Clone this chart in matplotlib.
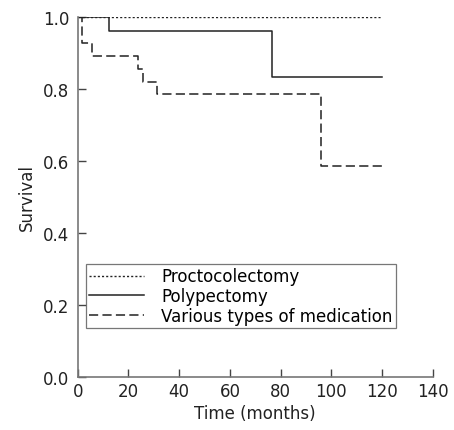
import matplotlib
matplotlib.use("Agg")
import matplotlib.pyplot as plt

# Data (Kaplan-Meier step curves)
procto_t = [0, 120]
procto_s = [1.0, 1.0]

poly_t = [0, 12.5, 76.5, 120]
poly_s = [1.0, 0.963, 0.835, 0.835]

med_t = [0, 1.8, 5.6, 23.6, 25.6, 31.4, 96.0, 120]
med_s = [1.0, 0.929, 0.893, 0.857, 0.821, 0.786, 0.587, 0.587]

xticks = [0, 20, 40, 60, 80, 100, 120, 140]
yticks = [0.0, 0.2, 0.4, 0.6, 0.8, 1.0]

plt.rcParams['font.family'] = ['DejaVu Sans']
fig = plt.figure(figsize=(4.54, 4.31), dpi=100)
ax = fig.add_axes([0.171, 0.1237, 0.7826, 0.834])

lc = '#222222'
ax.step(procto_t, procto_s, where='post', color=lc, lw=1.0, linestyle=(0, (1.5, 1.5)),
        label='Proctocolectomy')
ax.step(poly_t, poly_s, where='post', color=lc, lw=1.1, linestyle='-',
        label='Polypectomy')
ax.step(med_t, med_s, where='post', color=lc, lw=1.1, linestyle=(0, (6, 2.8)),
        label='Various types of medication')

ax.set_xlim(0, 140)
ax.set_ylim(0, 1.0)
ax.set_xticks(xticks)
ax.set_yticks(yticks)
ax.set_xticklabels([str(v) for v in xticks])
ax.set_yticklabels([f"{v:.1f}" for v in yticks])

for s in ['top', 'right']:
    ax.spines[s].set_visible(False)
for s in ['left', 'bottom']:
    ax.spines[s].set_color('#777777')
    ax.spines[s].set_linewidth(1.2)
ax.tick_params(direction='in', length=6, width=1, color='#444444',
               labelsize=12, labelcolor='#222222')
ax.tick_params(axis='x', pad=4)
ax.tick_params(axis='y', pad=6)

ax.set_xlabel('Time (months)', fontsize=12, color='#222222', labelpad=3)
ax.set_ylabel('Survival', fontsize=12, color='#222222', labelpad=5)

leg = ax.legend(loc='lower left', bbox_to_anchor=(0.024, 0.135), fontsize=12,
                frameon=True, fancybox=False, edgecolor='#555555',
                handlelength=3.3, handletextpad=1.0, borderpad=0.2,
                labelspacing=0.1, borderaxespad=0)
leg.get_frame().set_linewidth(0.9)

fig.savefig('out.png', dpi=100)
